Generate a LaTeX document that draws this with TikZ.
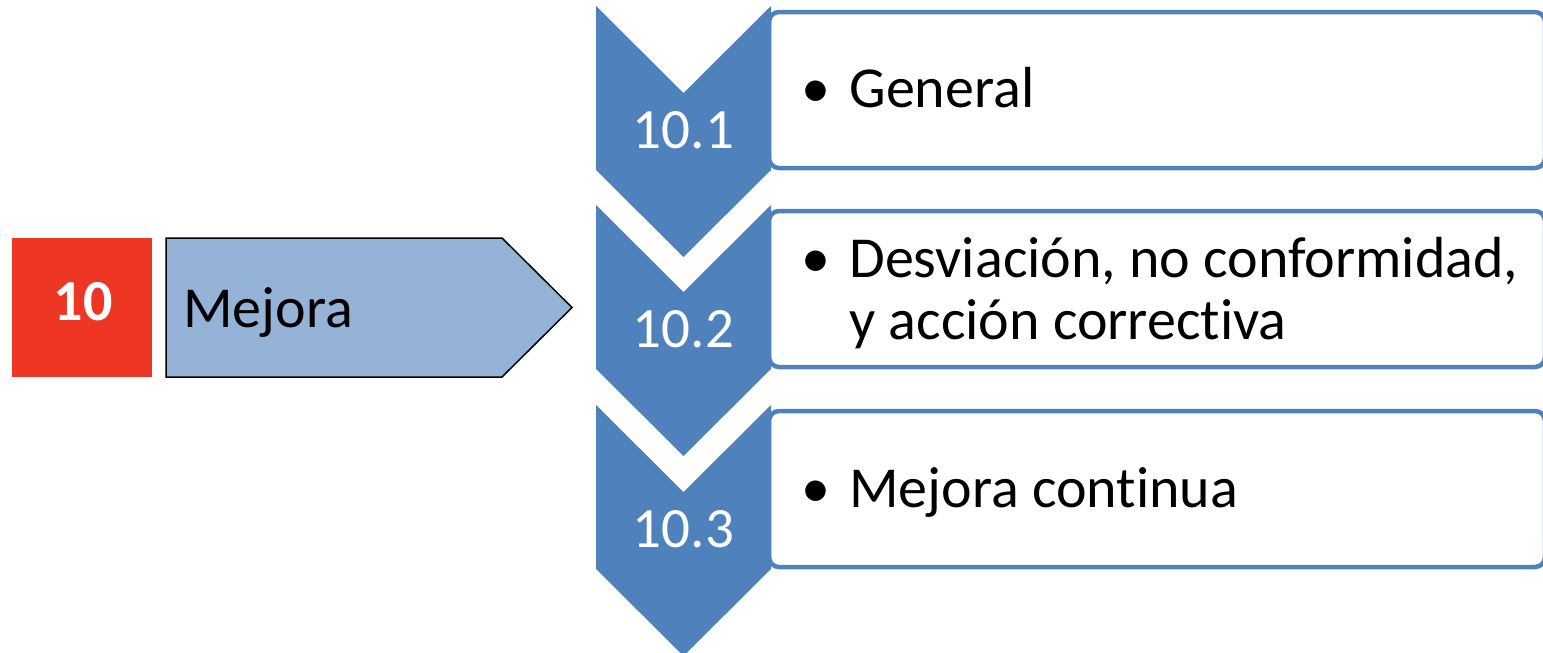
\documentclass[tikz,border=0pt]{standalone}
\usepackage{fontspec}
\setmainfont{Carlito}[Ligatures=CommonOff]
\usepackage{tikz}

\definecolor{chevblue}{RGB}{79,129,189}
\definecolor{lightblue}{RGB}{149,179,215}
\definecolor{tenred}{RGB}{238,54,36}

\tikzset{
  itembox/.style={draw=chevblue, line width=2.25pt, rounded corners=5pt,
    minimum width=388pt, minimum height=78pt, inner sep=0pt},
  numtext/.style={text=white, font=\fontsize{28.5}{31}\selectfont, anchor=base, inner sep=0pt},
  itemtext/.style={font=\fontsize{29}{31}\selectfont, anchor=base west, inner sep=0pt, align=left},
}

\begin{document}
\begin{tikzpicture}[x=0.5pt,y=-0.5pt]
  \useasboundingbox (0,0) rectangle (1543,653);

  \node[fill=tenred, minimum width=70pt, minimum height=69.5pt, inner sep=0pt] (sec) at (82,307.5) {};
  \node[text=white, font=\fontsize{29}{31}\bfseries\selectfont, anchor=base, inner sep=0pt] (secnum) at (83,320) {10};
  \draw[fill=lightblue, line width=0.75pt] (166,238) -- (502,238) -- (572,307.5) -- (502,377) -- (166,377) -- cycle;
  \node[itemtext] (sectitle) at (183,327) {Mejora};

  \foreach \i/\y in {1/6,2/205,3/405} {
    \node[itembox] (box\i) at (1157,\y+84) {};
    \fill[chevblue] (596,\y) -- (683.5,\y+87) -- (771,\y) -- (771,\y+164)
      -- (683.5,\y+251) -- (596,\y+164) -- cycle;
    \node[numtext] (num\i) at (683.5,\y+142) {10.\i};
  }

  \node[itemtext, anchor=base] (bullet1) at (816,107) {\textbullet};
  \node[itemtext] (item1) at (849,107) {General};
  \node[itemtext, anchor=base] (bullet2) at (816,277) {\textbullet};
  \node[itemtext] (item2) at (849,339) {Desviación, no conformidad,\\y acción correctiva};
  \node[itemtext, anchor=base] (bullet3) at (816,507) {\textbullet};
  \node[itemtext] (item3) at (849,507) {Mejora continua};
\end{tikzpicture}
\end{document}
